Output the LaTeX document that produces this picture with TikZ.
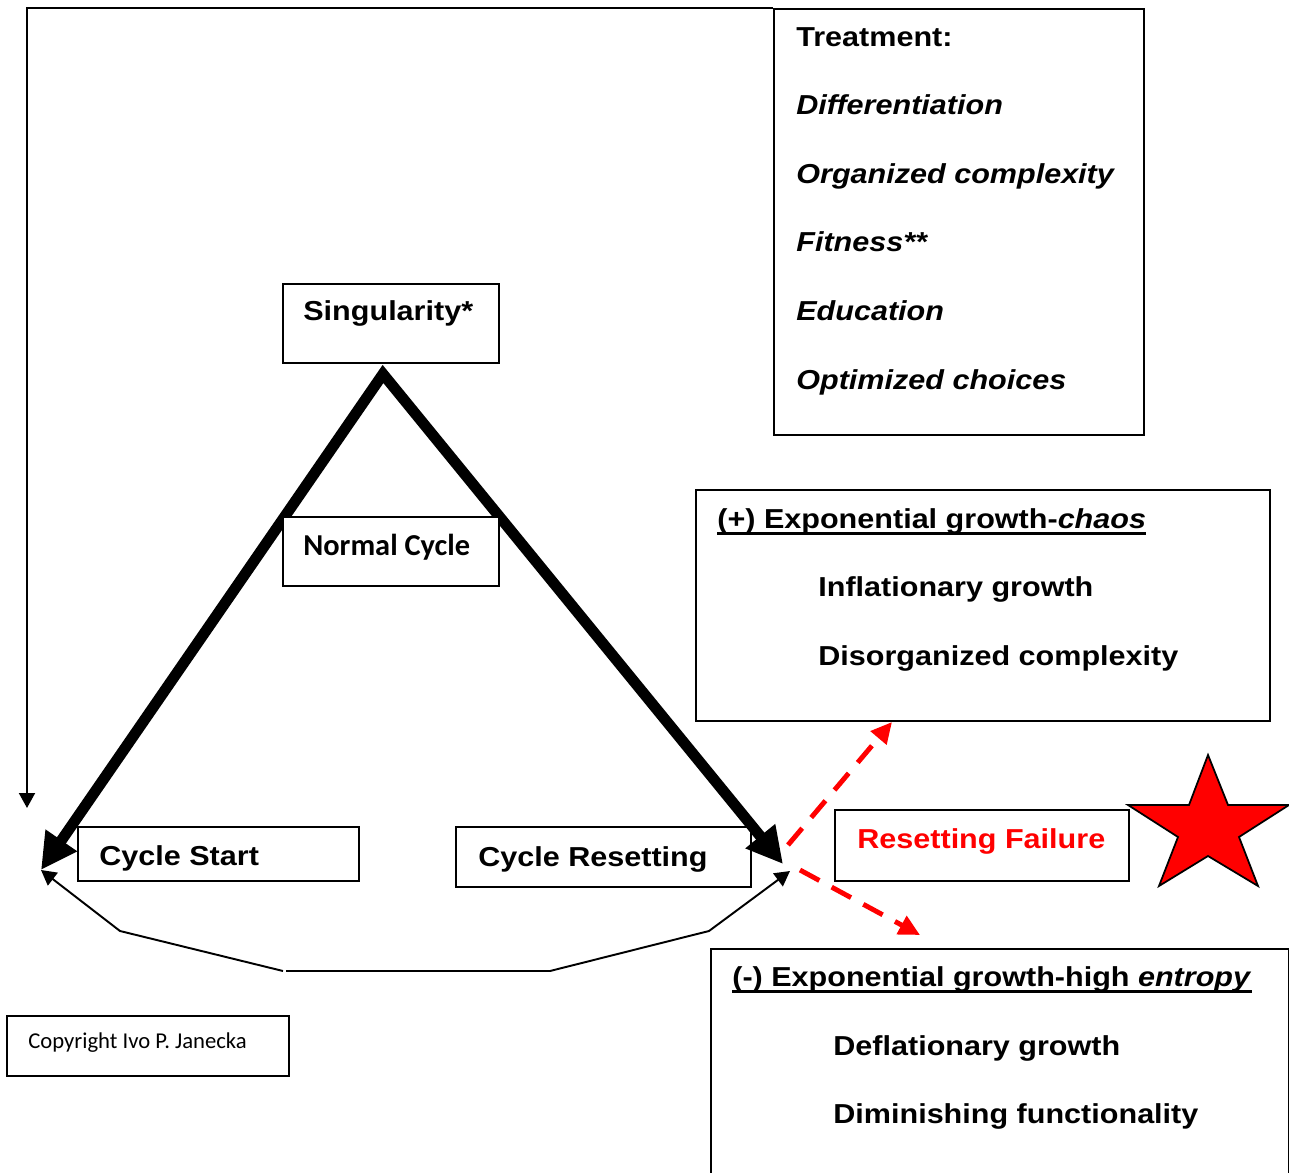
\documentclass[tikz,border=0pt]{standalone}
\usepackage{fontspec}
\setmainfont{Liberation Sans}
\newfontfamily\widesans[FakeStretch=1.115]{Liberation Sans}
\newfontfamily\calibri{Carlito}
\usetikzlibrary{arrows.meta}

\begin{document}
\begin{tikzpicture}[x=0.02cm, y=-0.02cm,
  box/.style 2 args={rectangle, draw, line width=1.1pt, fill=white, anchor=north west,
                     inner sep=0pt, minimum width=#1, minimum height=#2},
  lbl/.style={anchor=west, inner sep=0pt, text height=11.2pt, text depth=0pt,
              font=\widesans\bfseries\fontsize{15.6}{18}\selectfont},
  cal/.style={anchor=west, inner sep=0pt, text height=11pt, text depth=0pt,
              font=\calibri\bfseries\fontsize{17.3}{20}\selectfont},
  bigarr/.style={{Triangle[length=0.72cm, width=0.72cm]}-{Triangle[length=0.72cm, width=0.72cm]},
                 line width=6.2pt, line join=miter},
  thinarr/.style={-{Triangle[length=0.3cm, width=0.32cm]}, line width=1.1pt},
  redarr/.style={-{Triangle[length=0.42cm, width=0.4cm]}, line width=2.8pt, red,
                 dash pattern=on 0.44cm off 0.28cm}]
  \useasboundingbox (0,0) rectangle (1289,1173);

  % Boxes under the arrows
  \node[box={7.40cm}{8.52cm}]  (treat)  at (773,8)    {};
  \node[box={4.32cm}{1.58cm}]  (sing)   at (282,283)  {};
  \node[box={5.62cm}{1.08cm}]  (cstart) at (77,826)   {};
  \node[box={5.90cm}{1.20cm}]  (creset) at (455,826)  {};
  \node[box={5.88cm}{1.42cm}]  (fail)   at (834,809)  {};
  \node[box={11.48cm}{4.62cm}] (plus)   at (695,489)  {};
  \node[box={11.56cm}{4.80cm}] (minus)  at (710,948)  {};
  \node[box={5.64cm}{1.20cm}]  (copy)   at (6,1015)   {};

  % Arrow ends
  \coordinate (apex)  at (383,374);
  \coordinate (cs)    at (41,870);
  \coordinate (cr)    at (783,864);
  \coordinate (fb)    at (27,808);
  \coordinate (lo)    at (286,971);
  \coordinate (crlow) at (790,871);
  \coordinate (up0)   at (788,845);
  \coordinate (up1)   at (892,722);
  \coordinate (dn0)   at (800,870);
  \coordinate (dn1)   at (920,935);

  % Cycle
  \draw[bigarr] (cs) -- (apex) -- (cr);
  \node[box={4.32cm}{1.38cm}] (norm) at (282,516) {};

  % Feedback lines
  \draw[thinarr] (treat.north west) -| (fb);
  \draw[thinarr] ([xshift=-0.06cm]lo) -- (120,931) -- (cs);
  \draw[thinarr] (lo) -- (550,971) -- (709,931) -- (crlow);

  % Failure branches
  \draw[redarr] (up0) -- (up1);
  \draw[redarr] (dn0) -- (dn1);

  % Star
  \draw[fill=red, line width=1pt, line join=miter]
    (1208,755) -- (1228,805) -- (1289,805) -- (1239,837) -- (1258,886) -- (1208,856)
    -- (1159,886) -- (1178,837) -- (1128,805) -- (1189,805) -- cycle;

  % Texts
  \node[lbl] (t0) at (796,37)  {Treatment:};
  \node[lbl] (t1) at (796,105) {\itshape Differentiation};
  \node[lbl] (t2) at (796,174) {\itshape Organized complexity};
  \node[lbl] (t3) at (796,242) {\itshape Fitness**};
  \node[lbl] (t4) at (796,311) {\itshape Education};
  \node[lbl] (t5) at (796,380) {\itshape Optimized choices};

  \node[lbl] (singt)   at (303,311) {Singularity*};
  \node[cal] (normt)   at (303,546) {Normal Cycle};
  \node[lbl] (cstartt) at (99,856)  {Cycle Start};
  \node[lbl] (cresett) at (478,857) {Cycle Resetting};
  \node[lbl, text=red] (failt) at (857,839) {Resetting Failure};

  \node[lbl] (ptitle) at (717,519) {(+) Exponential growth-\textit{chaos}};
  \node[lbl] (p1)     at (818,587) {Inflationary growth};
  \node[lbl] (p2)     at (818,656) {Disorganized complexity};
  \draw[line width=1.6pt] ([yshift=-0.09cm]ptitle.south west) -- ([yshift=-0.09cm]ptitle.south east);

  \node[lbl] (mtitle) at (732,977)  {(-) Exponential growth-high \textit{entropy}};
  \node[lbl] (m1)     at (833,1046) {Deflationary growth};
  \node[lbl] (m2)     at (833,1114) {Diminishing functionality};
  \draw[line width=1.6pt] ([yshift=-0.09cm]mtitle.south west) -- ([yshift=-0.09cm]mtitle.south east);

  \node[anchor=west, inner sep=0pt, text height=8pt, text depth=0pt,
        font=\calibri\fontsize{12.9}{15}\selectfont] (copyt) at (28,1041) {Copyright Ivo P. Janecka};
\end{tikzpicture}
\end{document}
